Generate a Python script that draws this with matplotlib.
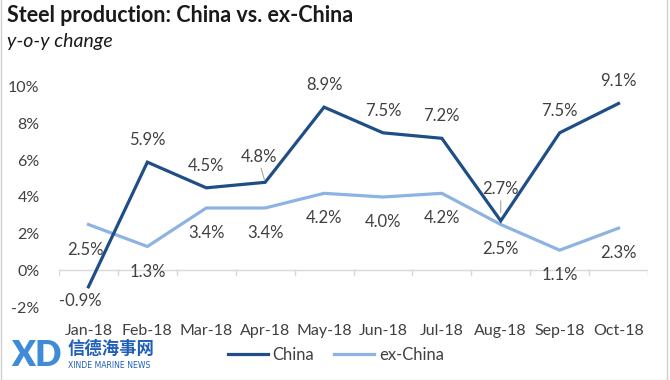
import matplotlib
matplotlib.use("Agg")
import matplotlib.pyplot as plt
from matplotlib.patches import Rectangle

plt.rcParams["font.family"] = ["Lato", "Noto Sans CJK SC", "DejaVu Sans"]

# ── data ─────────────────────────────────────────────────────────────────────
MONTHS = ["Jan-18", "Feb-18", "Mar-18", "Apr-18", "May-18",
          "Jun-18", "Jul-18", "Aug-18", "Sep-18", "Oct-18"]
CHINA    = [-0.9, 5.9, 4.5, 4.8, 8.9, 7.5, 7.2, 2.7, 7.5, 9.1]
EX_CHINA = [2.5, 1.3, 3.4, 3.4, 4.2, 4.0, 4.2, 2.5, 1.1, 2.3]
YTICKS   = [-2, 0, 2, 4, 6, 8, 10]

DARK  = "#1f4e87"
LIGHT = "#8db3e2"
TXT   = "#404040"

fig = plt.figure(figsize=(6.7, 3.8), dpi=100)
ax = fig.add_axes([59/670, 0.1776, 589/670, 0.608])
x = list(range(len(MONTHS)))

ax.plot(x, CHINA, color=DARK, lw=2.3, solid_joinstyle="miter", label="China", zorder=3)
ax.plot(x, EX_CHINA, color=LIGHT, lw=2.3, solid_joinstyle="miter", label="ex-China", zorder=2)

ax.set_xlim(-0.5, len(MONTHS) - 0.5)
ax.set_ylim(-2.3, 10.3)
ax.set_yticks(YTICKS)
ax.set_yticklabels([f"{v}%" for v in YTICKS], fontsize=11.5, color=TXT)
ax.set_xticks(x)
ax.set_xticklabels(MONTHS, fontsize=11.5, color=TXT)
ax.tick_params(axis="both", length=0)
ax.tick_params(axis="y", pad=14)
ax.tick_params(axis="x", pad=8)
for s in ax.spines.values():
    s.set_visible(False)

# category axis at zero with boundary ticks
ax.axhline(0, color="#d9d9d9", lw=1, zorder=1)
for b in [i - 0.5 for i in range(len(MONTHS) + 1)]:
    ax.plot([b, b], [0, -0.25], color="#d9d9d9", lw=1, zorder=1)

# data labels – China above, ex-China below
china_off = {0: (-8, -14), 3: (-6, 25), 7: (0, 32)}
for i, v in enumerate(CHINA):
    dx, dy = china_off.get(i, (0, 22))
    ax.annotate(f"{v:.1f}%", (i, v), xytext=(dx, dy), textcoords="offset pixels",
                ha="center", va="center", fontsize=12, color=TXT)
# leader lines for offset labels
ax.annotate("", (3, CHINA[3]), xytext=(-4, 14), textcoords="offset pixels",
            arrowprops=dict(arrowstyle="-", color="#a6a6a6", lw=0.8,
                            shrinkA=0, shrinkB=2))
ax.annotate("", (7, CHINA[7]), xytext=(0, 20), textcoords="offset pixels",
            arrowprops=dict(arrowstyle="-", color="#a6a6a6", lw=0.8,
                            shrinkA=0, shrinkB=6))

ex_off = {0: (-3, -26)}
for i, v in enumerate(EX_CHINA):
    dx, dy = ex_off.get(i, (0, -25))
    ax.annotate(f"{v:.1f}%", (i, v), xytext=(dx, dy), textcoords="offset pixels",
                ha="center", va="center", fontsize=12, color=TXT)

# legend
fig.legend(handles=ax.get_lines()[:2], loc="center", bbox_to_anchor=(336/670, 1 - 355/380),
           ncol=2, frameon=False, fontsize=12, labelcolor=TXT,
           handlelength=2.4, columnspacing=1.2, handletextpad=0.3)

# titles
fig.text(7/670, 1 - 15/380, "Steel production: China vs. ex-China", fontsize=15.5,
         fontweight="bold", color="#1a1a1a", va="center", ha="left")
fig.text(7/670, 1 - 41/380, "y-o-y change", fontsize=14, style="italic",
         color="#1a1a1a", va="center", ha="left")

# watermark logo
fig.text(11/670, 1 - 355/380, "XD", fontsize=25, fontweight="heavy", color="#2a7fd4",
         va="center", ha="left", alpha=0.9)
fig.text(68/670, 1 - 349/380, "信德海事网", fontsize=12.5, fontweight="bold",
         color="#1f5fb8", va="center", ha="left", family=["Noto Sans CJK SC", "DejaVu Sans"])
fig.text(68/670, 1 - 366/380, "XINDE MARINE NEWS", fontsize=5.6, color="#1f5fb8",
         va="center", ha="left", family=["DejaVu Sans"])

# frame
fig.add_artist(Rectangle((0.002, 0.0), 0.994, 1.2, transform=fig.transFigure,
                         fill=False, edgecolor="#cfcfcf", lw=1))

fig.savefig("out.png", dpi=100)
